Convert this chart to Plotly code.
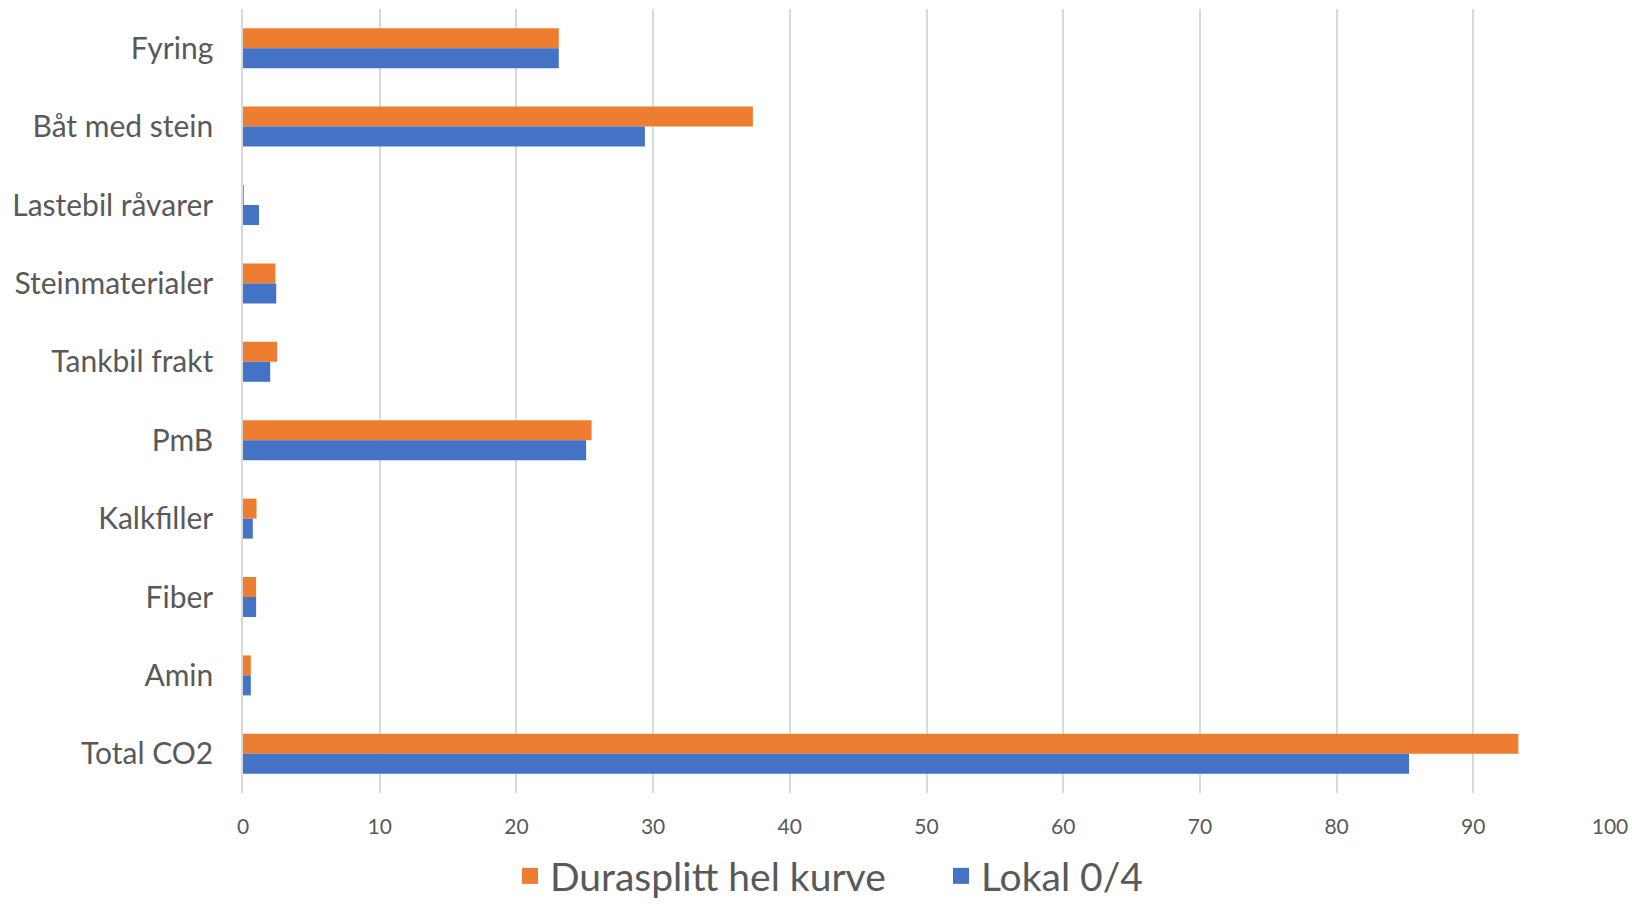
import plotly.graph_objects as go

categories = ["Fyring", "Båt med stein", "Lastebil råvarer", "Steinmaterialer",
              "Tankbil frakt", "PmB", "Kalkfiller", "Fiber", "Amin", "Total CO2"]
durasplitt = [23.1, 37.3, 0.03, 2.37, 2.5, 25.5, 0.99, 0.96, 0.57, 93.3]
lokal = [23.1, 29.4, 1.17, 2.43, 1.99, 25.1, 0.72, 0.96, 0.57, 85.3]
x_ticks = list(range(0, 101, 10))
series_names = ["Durasplitt hel kurve", "Lokal 0/4"]
colors = ["#ED7D31", "#4472C4"]

fig = go.Figure()
for name, vals, col in zip(series_names, [durasplitt, lokal], colors):
    fig.add_trace(go.Bar(y=categories, x=vals, orientation="h",
                         name=name, marker_color=col,
                         marker_line_width=0, showlegend=False))
# legend entries with larger square swatches
for name, col in zip(series_names, colors):
    fig.add_trace(go.Scatter(x=[None], y=[None], mode="markers", name=name,
                             marker=dict(symbol="square", size=23, color=col)))

fig.update_layout(
    width=1632, height=908,
    barmode="group", bargap=0.49, bargroupgap=0,
    plot_bgcolor="white", paper_bgcolor="white",
    margin=dict(l=243, r=22, t=9, b=115, autoexpand=False),
    font=dict(family="Lato, Open Sans, sans-serif", color="#595959"),
    legend=dict(orientation="h", xref="container", yref="container",
                x=510 / 1632, xanchor="left", y=-0.008, yanchor="bottom",
                font=dict(size=39, color="#595959"),
                entrywidth=386, entrywidthmode="pixels",
                traceorder="normal", itemsizing="trace"),
    showlegend=True,
)
fig.update_xaxes(range=[0, 100], tickvals=x_ticks, showgrid=True, gridcolor="#D9D9D9",
                 gridwidth=1.5, zeroline=False, showline=False,
                 tickfont=dict(size=21, color="#595959"), ticklabelstandoff=19)
fig.update_yaxes(autorange="reversed", showgrid=False, showline=True,
                 linecolor="#D9D9D9", linewidth=1.5,
                 tickfont=dict(size=30, color="#595959"), ticklabelstandoff=22)

fig.write_html("out.html")
